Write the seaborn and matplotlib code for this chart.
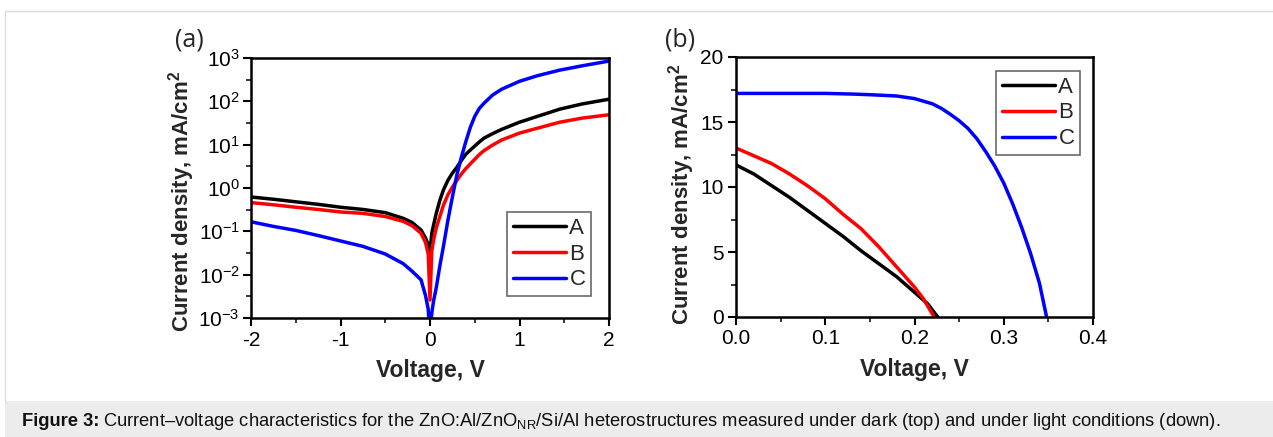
import numpy as np
import pandas as pd
import matplotlib
matplotlib.use("Agg")
import matplotlib.pyplot as plt
import seaborn as sns
from matplotlib.patches import Rectangle
from matplotlib.ticker import MultipleLocator, LogLocator, NullFormatter

sns.set_style("ticks")
plt.rcParams['font.family'] = ['Liberation Sans', 'DejaVu Sans']
plt.rcParams['mathtext.fontset'] = 'custom'
plt.rcParams['mathtext.rm'] = 'Liberation Sans'
plt.rcParams['mathtext.bf'] = 'Liberation Sans:bold'
plt.rcParams['mathtext.default'] = 'regular'
plt.rcParams['axes.unicode_minus'] = False

# (a) dark J-V, log scale
v_dark = [-2, -1.75, -1.5, -1.25, -1, -0.75, -0.5, -0.3, -0.2, -0.1, -0.05, -0.02,
          0, 0.02, 0.04, 0.07, 0.11, 0.15, 0.2, 0.25, 0.3, 0.35, 0.4, 0.45, 0.5,
          0.55, 0.6, 0.7, 0.8, 1.0, 1.2, 1.45, 1.7, 2.0]
j_dark_A = [0.62, 0.55, 0.48, 0.42, 0.36, 0.32, 0.27, 0.2, 0.16, 0.107, 0.07, 0.05,
            0.033, 0.09, 0.14, 0.26, 0.52, 0.9, 1.5, 2.2, 3.0, 4.3, 6.0, 7.5, 9.3,
            11.5, 14, 18, 22.5, 33, 45, 66, 87, 112]
j_dark_B = [0.46, 0.41, 0.36, 0.32, 0.28, 0.26, 0.22, 0.17, 0.135, 0.09, 0.055, 0.03,
            0.0026, 0.035, 0.063, 0.12, 0.22, 0.4, 0.7, 1.05, 1.5, 2.1, 2.8, 3.6, 4.6,
            5.9, 7.2, 9.8, 12.8, 18.5, 24, 33, 41, 49]
j_dark_C = [0.166, 0.13, 0.105, 0.08, 0.06, 0.045, 0.03, 0.018, 0.012, 0.0076, 0.0033, 0.0016,
            0.0003, 0.0013, 0.0025, 0.005, 0.016, 0.045, 0.18, 0.62, 2.0, 5.1, 11.7, 25, 45,
            68, 89, 140, 190, 290, 390, 525, 660, 850]

# (b) light J-V
v_light_A = [0, 0.02, 0.04, 0.06, 0.08, 0.1, 0.12, 0.14, 0.16, 0.18, 0.2, 0.215, 0.226]
j_light_A = [11.7, 11.0, 10.1, 9.2, 8.2, 7.2, 6.2, 5.1, 4.1, 3.1, 1.9, 1.0, 0.0]
v_light_B = [0, 0.02, 0.04, 0.06, 0.08, 0.1, 0.12, 0.14, 0.16, 0.18, 0.2, 0.21, 0.222]
j_light_B = [13.0, 12.4, 11.8, 11.0, 10.1, 9.1, 7.9, 6.8, 5.4, 3.85, 2.3, 1.4, 0.0]
v_light_C = [0, 0.05, 0.1, 0.13, 0.15, 0.18, 0.2, 0.22, 0.23, 0.24, 0.25, 0.26, 0.27,
             0.28, 0.29, 0.30, 0.31, 0.32, 0.33, 0.34, 0.348]
j_light_C = [17.2, 17.2, 17.2, 17.15, 17.1, 17.0, 16.8, 16.4, 16.05, 15.6, 15.1, 14.5, 13.7,
             12.7, 11.6, 10.3, 8.7, 6.9, 4.9, 2.6, 0.0]

samples = ['A', 'B', 'C']
colors = {'A': 'black', 'B': '#ff0000', 'C': '#0000ff'}

dark = pd.concat([
    pd.DataFrame({'V': v_dark, 'J': j, 'sample': s})
    for s, j in zip(samples, [j_dark_A, j_dark_B, j_dark_C])
])
light = pd.concat([
    pd.DataFrame({'V': v, 'J': j, 'sample': s})
    for s, v, j in zip(samples, [v_light_A, v_light_B, v_light_C],
                       [j_light_A, j_light_B, j_light_C])
])

W, H = 1273, 437
fig = plt.figure(figsize=(W / 100, H / 100), dpi=100)
fig.patch.set_facecolor('white')

# page decorations: thin frame and caption band
fig.add_artist(plt.Line2D([5 / W, 1], [1 - 11 / H, 1 - 11 / H], color='#dcdcdc', lw=1))
fig.add_artist(plt.Line2D([5 / W, 5 / W], [1 - 11 / H, 36 / H], color='#dcdcdc', lw=1))
fig.patches.append(Rectangle((5 / W, 0), 1, 36 / H, transform=fig.transFigure,
                             facecolor='#ececec', edgecolor='none', zorder=0))
cap_size = 13.2
t_bold = fig.text(22 / W, 11 / H, "Figure 3:", fontsize=cap_size, fontweight='bold',
                  color='#111111', va='baseline')
renderer = fig.canvas.get_renderer()
x_end = t_bold.get_window_extent(renderer).x1
fig.text((x_end + 4) / W, 11 / H,
         "Current–voltage characteristics for the ZnO:Al/ZnO$_{NR}$/Si/Al "
         "heterostructures measured under dark (top) and under light conditions (down).",
         fontsize=cap_size, color='#111111', va='baseline')

ax1 = fig.add_axes([251 / W, 1 - 318 / H, 358 / W, 260 / H])
ax2 = fig.add_axes([736 / W, 1 - 317 / H, 357 / W, 260 / H])

sns.lineplot(data=dark, x='V', y='J', hue='sample', palette=colors, lw=2.5,
             ax=ax1, sort=False, estimator=None)
sns.lineplot(data=light, x='V', y='J', hue='sample', palette=colors, lw=2.5,
             ax=ax2, sort=False, estimator=None)

ax1.set_yscale('log')
ax1.set_xlim(-2, 2)
ax1.set_ylim(1e-3, 1e3)
ax1.xaxis.set_major_locator(MultipleLocator(1))
ax1.xaxis.set_minor_locator(MultipleLocator(0.5))
ax1.yaxis.set_major_locator(LogLocator(base=10, numticks=10))
ax1.yaxis.set_minor_locator(LogLocator(base=10, subs=[3.162], numticks=10))
ax1.yaxis.set_minor_formatter(NullFormatter())

ax2.set_xlim(0, 0.4)
ax2.set_ylim(0, 20)
ax2.xaxis.set_major_locator(MultipleLocator(0.1))
ax2.xaxis.set_minor_locator(MultipleLocator(0.05))
ax2.yaxis.set_major_locator(MultipleLocator(5))
ax2.yaxis.set_minor_locator(MultipleLocator(2.5))
ax2.set_xticks([0, 0.1, 0.2, 0.3, 0.4])
ax2.set_xticklabels(['0.0', '0.1', '0.2', '0.3', '0.4'])

for ax, tag, tx, ylab_xy in [(ax1, '(a)', 175, (-0.152, 0.45)), (ax2, '(b)', 665, (-0.109, 0.47))]:
    for sp in ax.spines.values():
        sp.set_visible(True)
        sp.set_linewidth(1.8)
        sp.set_color('black')
    ax.tick_params(which='major', direction='out', length=6, width=1.5, labelsize=15,
                   colors='black', pad=3)
    ax.tick_params(which='minor', direction='out', length=3.5, width=1.3)
    ax.set_xlabel('Voltage, V', fontsize=16.5, fontweight='bold', labelpad=7)
    ax.set_ylabel('Current density, mA/cm$^{2}$', fontsize=16, fontweight='bold')
    ax.yaxis.set_label_coords(*ylab_xy)
    fig.text(tx / W, 1 - 40 / H, tag, fontsize=18, family=['Open Sans', 'DejaVu Sans'],
             va='center', ha='left')
    leg = ax.legend(title=None, fontsize=16, frameon=True, fancybox=False, handlelength=2.4,
                    handletextpad=0.15, borderpad=0.25, labelspacing=0.22, borderaxespad=0)
    leg.get_frame().set_edgecolor('#444444')
    leg.get_frame().set_linewidth(1.2)
    for h in leg.get_lines():
        h.set_linewidth(2.5)

ax1.tick_params(axis='y', which='major', pad=2)
ax1.legend_.set_loc('lower right')
ax1.legend_.set_bbox_to_anchor((1 - 18 / 358, 22 / 260))
ax2.legend_.set_loc('upper right')
ax2.legend_.set_bbox_to_anchor((1 - 13 / 357, 1 - 14 / 260))

fig.savefig('out.png', dpi=100)
